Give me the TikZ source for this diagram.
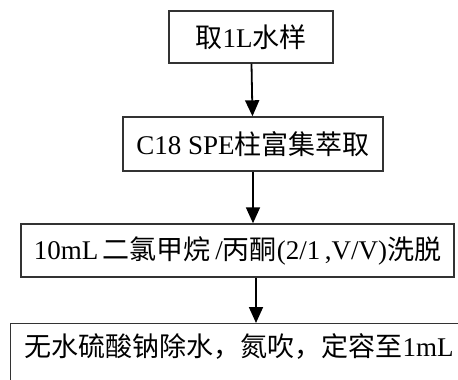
\documentclass[tikz,border=0pt]{standalone}
\usepackage{fontspec}
\setmainfont{Liberation Serif}
\newfontfamily\cjk{Noto Sans CJK SC}
\usetikzlibrary{arrows.meta}
\begin{document}
\begin{tikzpicture}[x=1pt,y=-1pt,
  box/.style={draw=black!80,line width=1.4pt,fill=white,inner sep=0pt,font=\fontsize{27}{29}\selectfont},
  arr/.style={line width=1.8pt,-{Triangle[length=16pt,width=14pt]}}]
\useasboundingbox (0,0) rectangle (458,380);
\clip (0,0) rectangle (458,380);
\fill[white] (0,0) rectangle (458,380);
\node[box,minimum width=164,minimum height=52] (a) at (251,37) {{\cjk 取}1L{\cjk 水样}};
\node[box,minimum width=260,minimum height=54] (b) at (253,144) {C18 SPE{\cjk 柱富集萃取}};
\node[box,minimum width=433,minimum height=53] (c) at (237.5,250.5) {10mL\,{\cjk 二氯甲烷}\,/{\cjk 丙酮}(2/1\,,V/V){\cjk 洗脱}};
\node[box,anchor=north west,text width=445,inner xsep=14pt,inner ysep=15pt,text height=18pt,text depth=45pt,align=left] (d) at (10,323) {{\cjk 无水硫酸钠除水，氮吹，定容至}1mL};
\coordinate (ax) at (256,0);
\draw[arr] (a) -- (b);
\draw[arr] (b) -- (b.south |- c.north);
\draw[arr] (c.south -| ax) -- (d.north -| ax);
\end{tikzpicture}
\end{document}
